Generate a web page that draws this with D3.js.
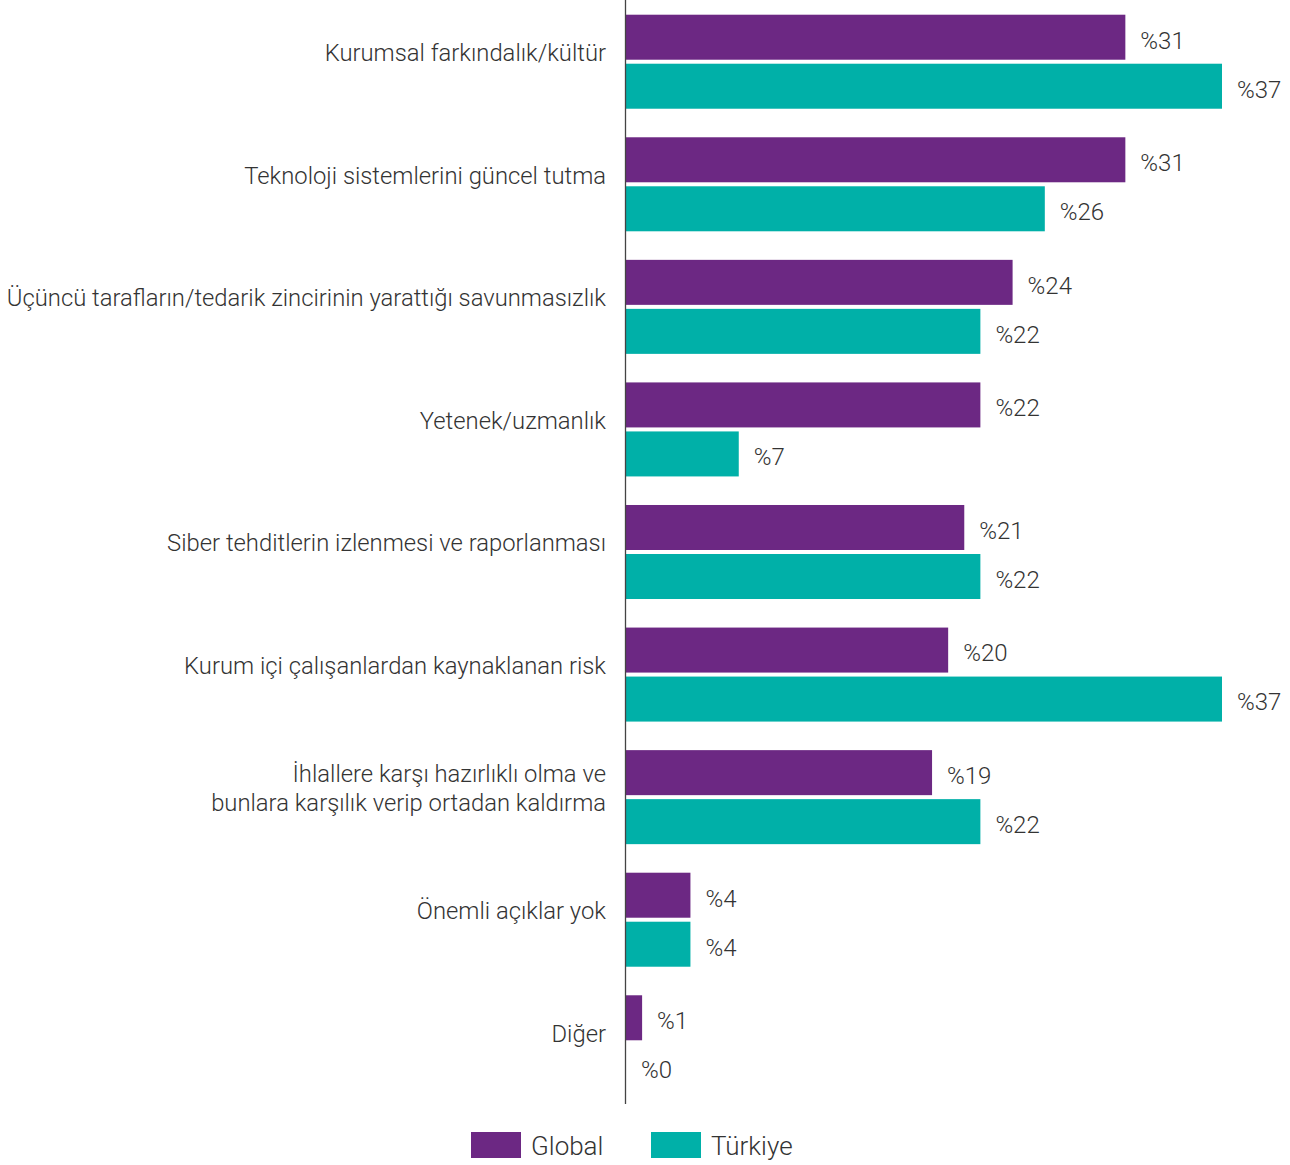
<!DOCTYPE html>
<html>
<head>
<meta charset="utf-8">
<script src="https://cdn.jsdelivr.net/npm/d3@7"></script>
<style>
  html, body { margin: 0; padding: 0; background: #ffffff; }
  svg { display: block; }
  text { font-family: Roboto, "Liberation Sans", sans-serif; font-weight: 300; fill: #333333; }
</style>
</head>
<body>
<svg id="chart" width="1290" height="1165"></svg>
<script>
// Categories (one label may wrap onto two lines)
const categories = [
  ["Kurumsal farkındalık/kültür"],
  ["Teknoloji sistemlerini güncel tutma"],
  ["Üçüncü tarafların/tedarik zincirinin yarattığı savunmasızlık"],
  ["Yetenek/uzmanlık"],
  ["Siber tehditlerin izlenmesi ve raporlanması"],
  ["Kurum içi çalışanlardan kaynaklanan risk"],
  ["İhlallere karşı hazırlıklı olma ve", "bunlara karşılık verip ortadan kaldırma"],
  ["Önemli açıklar yok"],
  ["Diğer"]
];
const seriesNames = ["Global", "Türkiye"];
const globalValues  = [31, 31, 24, 22, 21, 20, 19, 4, 1];
const turkiyeValues = [37, 26, 22, 7, 22, 37, 22, 4, 0];
const seriesColors = ["#6c2883", "#00b0a8"];

const svg = d3.select("#chart");
const keys = categories.map((c, i) => "c" + i);

const data = keys.map((k, i) => ({
  key: k,
  lines: categories[i],
  values: [globalValues[i], turkiyeValues[i]]
}));

const x = d3.scaleLinear().domain([0, 37]).range([626, 1222]);

const y = d3.scaleBand()
  .domain(keys)
  .range([0, 1104])
  .paddingInner(0.233)
  .paddingOuter(0.12);

const ySub = d3.scaleBand()
  .domain(seriesNames)
  .range([0, y.bandwidth()])
  .paddingInner(0.0816);

const groups = svg.append("g")
  .selectAll("g.group")
  .data(data)
  .join("g")
  .attr("class", "group")
  .attr("transform", d => `translate(0,${y(d.key)})`);

// Bars
groups.selectAll("rect")
  .data(d => d.values.map((v, j) => ({ v, s: seriesNames[j], j })))
  .join("rect")
  .attr("x", x(0))
  .attr("y", d => ySub(d.s))
  .attr("width", d => x(d.v) - x(0))
  .attr("height", ySub.bandwidth())
  .attr("fill", d => seriesColors[d.j]);

// Value labels
groups.selectAll("text.value")
  .data(d => d.values.map((v, j) => ({ v, s: seriesNames[j], j })))
  .join("text")
  .attr("class", "value")
  .attr("x", d => x(d.v) + 15)
  .attr("y", d => ySub(d.s) + ySub.bandwidth() / 2 + 3)
  .attr("dy", "0.35em")
  .style("font-size", "24px")
  .text(d => "%" + d.v);

// Category labels
groups.append("text")
  .attr("class", "cat")
  .attr("text-anchor", "end")
  .attr("x", 606)
  .style("font-size", "23.8px")
  .each(function (d) {
    const t = d3.select(this);
    const lh = 29;
    const mid = y.bandwidth() / 2 - 9;
    const start = mid - (d.lines.length - 1) * lh / 2;
    d.lines.forEach((ln, i) => {
      t.append("tspan")
        .attr("x", 606)
        .attr("y", start + i * lh)
        .attr("dy", "0.35em")
        .text(ln);
    });
  });

// Vertical baseline axis
svg.append("line")
  .attr("x1", 625.5).attr("x2", 625.5)
  .attr("y1", 0).attr("y2", 1104)
  .attr("stroke", "#444")
  .attr("stroke-width", 1.3);

// Legend
const legend = svg.append("g").attr("class", "legend");
const legendX = [471, 651];
seriesNames.forEach((name, i) => {
  legend.append("rect")
    .attr("x", legendX[i]).attr("y", 1132)
    .attr("width", 50).attr("height", 26)
    .attr("fill", seriesColors[i]);
  legend.append("text")
    .attr("x", legendX[i] + 60).attr("y", 1146)
    .attr("dy", "0.35em")
    .style("font-size", "26px")
    .text(name);
});
</script>
</body>
</html>
